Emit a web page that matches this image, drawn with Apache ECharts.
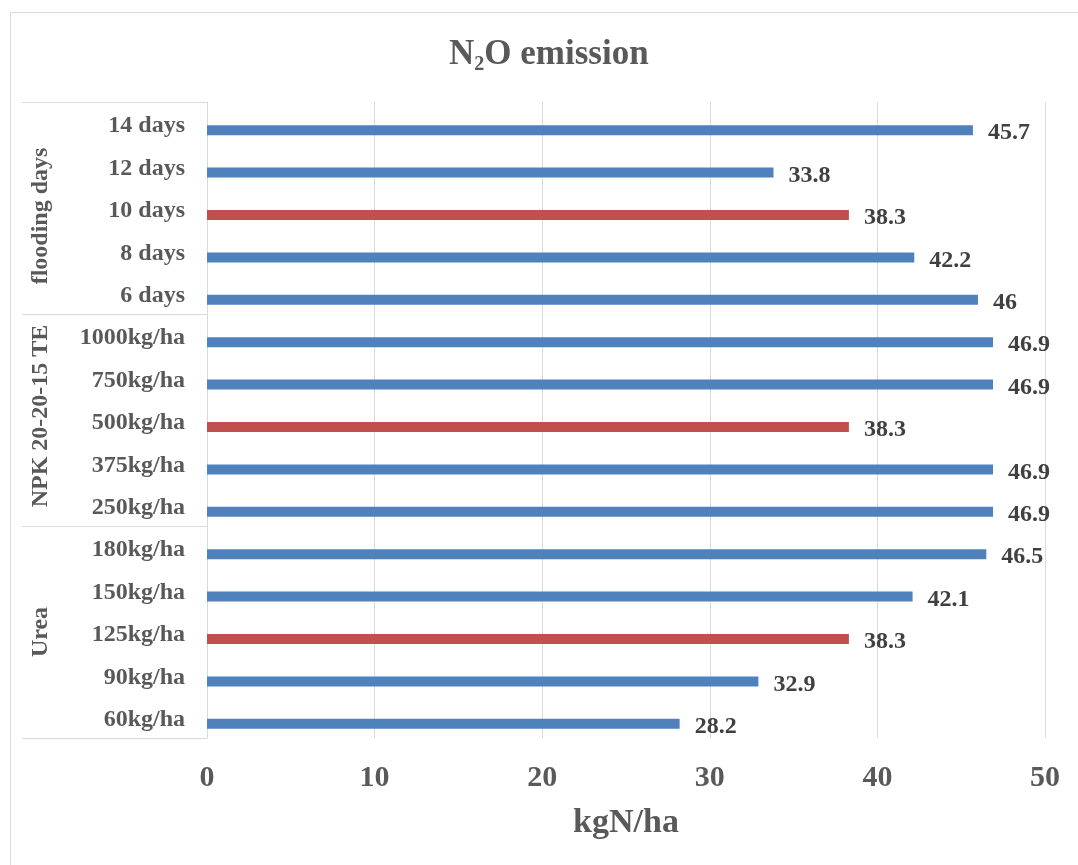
<!DOCTYPE html>
<html>
<head>
<meta charset="utf-8">
<script src="https://cdn.jsdelivr.net/npm/echarts@6/dist/echarts.min.js"></script>
<style>
html,body{margin:0;padding:0;background:#fff;}
#c{width:1078px;height:865px;}
</style>
</head>
<body>
<div id="c"></div>
<script>
// categories listed bottom -> top
var categories = ['60kg/ha','90kg/ha','125kg/ha','150kg/ha','180kg/ha',
  '250kg/ha','375kg/ha','500kg/ha','750kg/ha','1000kg/ha',
  '6 days','8 days','10 days','12 days','14 days'];
var values = [28.2, 32.9, 38.3, 42.1, 46.5, 46.9, 46.9, 38.3, 46.9, 46.9, 46, 42.2, 38.3, 33.8, 45.7];
var referenceCats = ['125kg/ha','500kg/ha','10 days'];
var groups = ['Urea', 'NPK 20-20-15 TE', 'flooding days'];
var xTicks = [0, 10, 20, 30, 40, 50];

var FONT = 'Liberation Serif';
var GSTYLE = {fontFamily: FONT, fontWeight: 'bold', fontSize: 24, color: '#595959'};
var chart = echarts.init(document.getElementById('c'));
var option = {
  backgroundColor: '#ffffff',
  animation: false,
  title: {
    text: '{a|N}{s|2}{a|O emission}',
    left: 449, top: 35, padding: 0,
    textStyle: {
      rich: {
        a: {fontFamily: FONT, fontWeight: 'bold', fontSize: 35, color: '#595959', lineHeight: 40},
        s: {fontFamily: FONT, fontWeight: 'bold', fontSize: 20, color: '#595959', lineHeight: 15, verticalAlign: 'bottom'}
      }
    }
  },
  graphic: [{
    type: 'rect', silent: true, z: -1,
    shape: {x: 10.5, y: 12.5, width: 1200, height: 1000},
    style: {fill: 'none', stroke: '#D9D9D9', lineWidth: 1}
  }],
  grid: {left: 207, right: 33, top: 102, bottom: 127, containLabel: false},
  xAxis: {
    type: 'value', min: 0, max: 50, interval: 10,
    name: 'kgN/ha', nameLocation: 'middle', nameGap: 68,
    nameTextStyle: {fontFamily: FONT, fontWeight: 'bold', fontSize: 34, color: '#595959'},
    axisLine: {show: false}, axisTick: {show: false},
    axisLabel: {
      fontFamily: FONT, fontWeight: 'bold', fontSize: 30, color: '#595959', margin: 25,
      formatter: function (v) { return xTicks.indexOf(v) >= 0 ? String(v) : ''; }
    },
    splitLine: {show: true, lineStyle: {color: '#D9D9D9', width: 1}}
  },
  yAxis: [{
    type: 'category', data: categories,
    axisLine: {show: true, lineStyle: {color: '#D9D9D9'}},
    axisTick: {show: false},
    axisLabel: {
      margin: 22, interval: 0,
      formatter: function (v) { return '{l|' + v + '}'; },
      rich: {l: {fontFamily: FONT, fontWeight: 'bold', fontSize: 24, color: '#595959', padding: [6, 0, 0, 0]}}
    },
    splitLine: {show: false}
  }, {
    type: 'category', data: groups, position: 'left', offset: 0,
    axisLine: {show: false},
    axisTick: {show: true, length: 185, lineStyle: {color: '#D9D9D9', width: 1}},
    axisLabel: {
      rotate: 90, margin: 154, interval: 0, hideOverlap: false,
      formatter: function (v, i) { return '{g' + i + '|' + v + '}'; },
      rich: {
        g0: Object.assign({padding: [0, 0, 0, 0]}, GSTYLE),
        g1: Object.assign({padding: [0, 0, 0, 8]}, GSTYLE),
        g2: Object.assign({padding: [0, 16, 0, 0]}, GSTYLE)
      }
    },
    splitLine: {show: false}
  }],
  series: [{
    type: 'bar', name: 'ghost', data: [], barWidth: 10, barGap: '40%', silent: true
  }, {
    type: 'bar', name: 'N2O',
    barWidth: 10, barGap: '40%',
    data: values.map(function (v, i) {
      return {
        value: v,
        itemStyle: {color: referenceCats.indexOf(categories[i]) >= 0 ? '#C0504D' : '#4F81BD'}
      };
    }),
    label: {
      show: true, position: 'right', distance: 15, offset: [0, 3],
      fontFamily: FONT, fontWeight: 'bold', fontSize: 24, color: '#404040'
    }
  }]
};
chart.setOption(option);
</script>
</body>
</html>
